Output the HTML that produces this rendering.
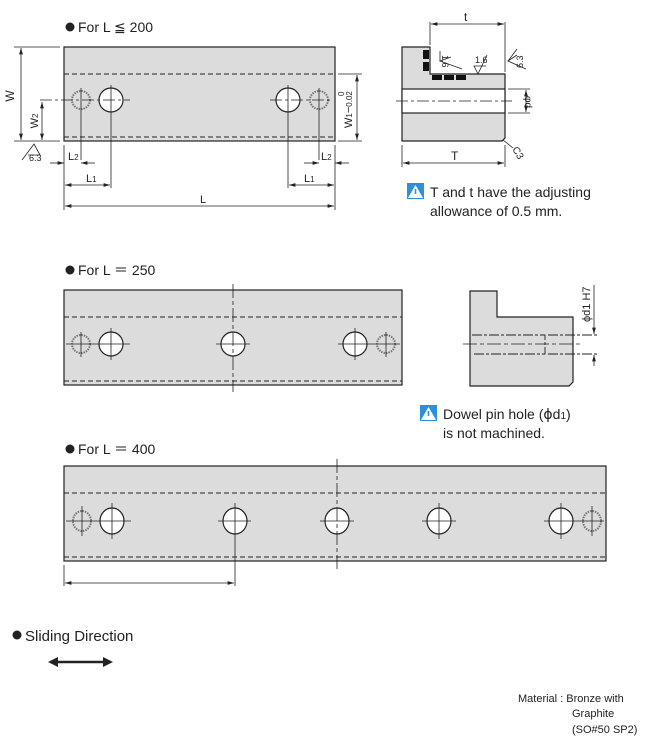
<!DOCTYPE html><html><head><meta charset="utf-8"><style>
body{margin:0;background:#fff}
svg{display:block;font-family:"Liberation Sans",sans-serif}
</style></head><body>
<svg width="648" height="741" viewBox="0 0 648 741" xmlns="http://www.w3.org/2000/svg">
<defs>
<marker id="a" viewBox="0 0 10 6" refX="10" refY="3" markerWidth="8" markerHeight="5" orient="auto-start-reverse"><path d="M0,0L10,3L0,6z" fill="#222"/></marker>
</defs>
<g fill="#222" font-size="14">
<circle cx="70" cy="27" r="4.5"/><text x="78" y="32">For L ≦ 200</text>
<circle cx="70" cy="270" r="4.5"/><text x="78" y="275">For L ＝ 250</text>
<circle cx="70" cy="449" r="4.5"/><text x="78" y="454">For L ＝ 400</text>
<circle cx="17" cy="635" r="4.5"/><text x="25" y="641" font-size="15">Sliding Direction</text>
</g>
<!-- block 1 -->
<g stroke="#222" stroke-width="1.2">
<rect x="64" y="47" width="271" height="94" fill="#dcdcdc"/>
<g stroke-dasharray="5,3" stroke-width="1"><line x1="64" y1="74" x2="335" y2="74"/><line x1="64" y1="137" x2="335" y2="137"/></g>
<g fill="#fff"><ellipse cx="111" cy="100" rx="12" ry="12"/><ellipse cx="288" cy="100" rx="12" ry="12"/></g>
<g fill="none" stroke="#777" stroke-dasharray="1.5,1" stroke-width="2"><circle cx="81" cy="100" r="9"/><circle cx="319" cy="100" r="9"/></g>
<g stroke-width="0.8" fill="none">
<line x1="40" y1="100" x2="130" y2="100" stroke-dasharray="12,3,3,3"/><line x1="270" y1="100" x2="333" y2="100" stroke-dasharray="12,3,3,3"/>
<line x1="81" y1="88" x2="81" y2="160"/><line x1="111" y1="85" x2="111" y2="188"/><line x1="288" y1="85" x2="288" y2="188"/><line x1="319" y1="88" x2="319" y2="160"/>
<line x1="14" y1="47" x2="60" y2="47"/><line x1="14" y1="141" x2="60" y2="141"/>
<line x1="21" y1="48" x2="21" y2="140" marker-start="url(#a)" marker-end="url(#a)"/>
<line x1="42" y1="102" x2="42" y2="140" marker-start="url(#a)" marker-end="url(#a)"/>
<line x1="64" y1="145" x2="64" y2="210"/><line x1="335" y1="145" x2="335" y2="210"/>
<line x1="50" y1="163" x2="64" y2="163" marker-end="url(#a)"/><line x1="95" y1="163" x2="81" y2="163" marker-end="url(#a)"/>
<line x1="304" y1="163" x2="319" y2="163" marker-end="url(#a)"/><line x1="349" y1="163" x2="335" y2="163" marker-end="url(#a)"/>
<line x1="65" y1="185" x2="110" y2="185" marker-start="url(#a)" marker-end="url(#a)"/>
<line x1="289" y1="185" x2="334" y2="185" marker-start="url(#a)" marker-end="url(#a)"/>
<line x1="65" y1="206" x2="334" y2="206" marker-start="url(#a)" marker-end="url(#a)"/>
<line x1="338" y1="74" x2="362" y2="74"/><line x1="338" y1="141" x2="362" y2="141"/>
<line x1="357" y1="75" x2="357" y2="140" marker-start="url(#a)" marker-end="url(#a)"/>
<path d="M22,160 L34,144 L40,155 L28,155"/>
</g></g>
<g font-size="11" fill="#222">
<text x="14" y="96" transform="rotate(-90 14 96)" text-anchor="middle" font-size="12">W</text>
<text x="38" y="121" transform="rotate(-90 38 121)" text-anchor="middle">W<tspan font-size="8">2</tspan></text>
<text x="29" y="161" font-size="9">6.3</text>
<text x="68" y="160">L<tspan font-size="8">2</tspan></text><text x="321" y="160">L<tspan font-size="8">2</tspan></text>
<text x="86" y="182">L<tspan font-size="8">1</tspan></text><text x="304" y="182">L<tspan font-size="8">1</tspan></text>
<text x="200" y="203">L</text>
<text x="352" y="128" transform="rotate(-90 352 128)">W<tspan font-size="8">1</tspan>−<tspan font-size="8">0.02</tspan></text>
<text x="344" y="96" transform="rotate(-90 344 96)" font-size="8">0</text>
</g>
<!-- side view 1 -->
<g stroke="#222" stroke-width="1.2">
<path d="M402,47 H430 V74 H505 V138 L502,141 H402 Z" fill="#dcdcdc"/>
<rect x="402" y="89" width="103" height="24" fill="#fff"/>
<g fill="#111" stroke="none"><rect x="423" y="50" width="6" height="9"/><rect x="423" y="62" width="6" height="9"/><rect x="432" y="75" width="10" height="5"/><rect x="444" y="75" width="10" height="5"/><rect x="456" y="75" width="10" height="5"/></g>
<g stroke-width="0.8" fill="none">
<line x1="396" y1="101" x2="512" y2="101" stroke-dasharray="12,3,3,3"/>
<line x1="430" y1="22" x2="430" y2="45"/><line x1="505" y1="22" x2="505" y2="72"/>
<line x1="431" y1="24" x2="504" y2="24" marker-start="url(#a)" marker-end="url(#a)"/>
<line x1="402" y1="145" x2="402" y2="167"/><line x1="505" y1="145" x2="505" y2="167"/>
<line x1="403" y1="163" x2="504" y2="163" marker-start="url(#a)" marker-end="url(#a)"/>
<line x1="508" y1="89" x2="530" y2="89"/><line x1="508" y1="113" x2="530" y2="113"/>
<line x1="526" y1="90" x2="526" y2="112" marker-start="url(#a)" marker-end="url(#a)"/>
<path d="M451,57 L440,61 L462,69 M440,61 L440,51"/>
<path d="M487,55 L478,74 L474,66 H486"/>
<path d="M517,55 L508,61 L526,69 M508,61 L517,49"/>
<line x1="503" y1="140" x2="513" y2="148"/>
</g></g>
<g font-size="10" fill="#222">
<text x="442" y="55" transform="rotate(90 442 55)" font-size="9">1.6</text>
<text x="475" y="63" font-size="9">1.6</text>
<text x="523" y="68" transform="rotate(-90 523 68)" font-size="9">6.3</text>
<text x="512" y="149" transform="rotate(60 512 149)">C3</text>
<text x="525" y="96" transform="rotate(90 525 96)">φd</text>
<text x="464" y="21" font-size="12">t</text>
<text x="451" y="160" font-size="12">T</text>
</g>
<g font-size="14" fill="#222">
<rect x="407" y="183" width="17" height="16" fill="#2f8fd8"/><path d="M415.5,185 L423,198 H408 Z" fill="#fff"/><rect x="414.7" y="189" width="1.6" height="5" fill="#2f8fd8"/>
<text x="430" y="197">T and t have the adjusting</text>
<text x="430" y="216">allowance of 0.5 mm.</text>
<rect x="420" y="405" width="17" height="16" fill="#2f8fd8"/><path d="M428.5,407 L436,420 H421 Z" fill="#fff"/><rect x="427.7" y="411" width="1.6" height="5" fill="#2f8fd8"/>
<text x="443" y="419">Dowel pin hole (<tspan font-family="DejaVu Sans">ϕ</tspan>d<tspan font-size="10">1</tspan>)</text>
<text x="443" y="438">is not machined.</text>
</g>
<!-- block 2 -->
<g stroke="#222" stroke-width="1.2">
<rect x="64" y="290" width="338" height="95" fill="#dcdcdc"/>
<g stroke-dasharray="5,3" stroke-width="1"><line x1="64" y1="317" x2="402" y2="317"/><line x1="64" y1="381" x2="402" y2="381"/></g>
<g fill="#fff"><circle cx="111" cy="344" r="12"/><circle cx="233" cy="344" r="12"/><circle cx="355" cy="344" r="12"/></g>
<g fill="none" stroke="#777" stroke-dasharray="1.5,1" stroke-width="2"><circle cx="81" cy="344" r="9"/><circle cx="386" cy="344" r="9"/></g>
<g stroke-width="0.8"><line x1="66" y1="344" x2="130" y2="344"/><line x1="216" y1="344" x2="250" y2="344"/><line x1="338" y1="344" x2="400" y2="344"/>
<line x1="81" y1="332" x2="81" y2="357"/><line x1="111" y1="328" x2="111" y2="360"/><line x1="355" y1="328" x2="355" y2="360"/><line x1="386" y1="332" x2="386" y2="357"/>
<line x1="233" y1="284" x2="233" y2="392" stroke-dasharray="14,3,4,3"/></g>
</g>
<!-- side view 2 -->
<g stroke="#222" stroke-width="1.2">
<path d="M470,291 H497 V317 H573 V382 L569,386 H470 Z" fill="#dcdcdc"/>
<g stroke-width="0.9" fill="none" stroke-dasharray="10,2,3,2">
<path d="M472,335 H545 V354 H472"/><line x1="548" y1="335" x2="598" y2="335"/><line x1="548" y1="354" x2="598" y2="354"/></g>
<line x1="463" y1="344" x2="580" y2="344" stroke-width="0.8" stroke-dasharray="14,3,4,3"/>
<line x1="594" y1="285" x2="594" y2="334" stroke-width="0.8" marker-end="url(#a)"/>
<line x1="594" y1="366" x2="594" y2="355" stroke-width="0.8" marker-end="url(#a)"/>
</g>
<text x="590" y="322" transform="rotate(-90 590 322)" font-size="11" fill="#222">ϕd1 H7</text>
<!-- block 3 -->
<g stroke="#222" stroke-width="1.2">
<rect x="64" y="466" width="542" height="95" fill="#dcdcdc"/>
<g stroke-dasharray="5,3" stroke-width="1"><line x1="64" y1="493" x2="606" y2="493"/><line x1="64" y1="557" x2="606" y2="557"/></g>
<g fill="#fff"><ellipse cx="112" cy="521" rx="12" ry="13"/><ellipse cx="235" cy="521" rx="12" ry="13"/><ellipse cx="337" cy="521" rx="12" ry="13"/><ellipse cx="439" cy="521" rx="12" ry="13"/><ellipse cx="561" cy="521" rx="12" ry="13"/></g>
<g fill="none" stroke="#777" stroke-dasharray="1.5,1" stroke-width="2"><ellipse cx="82" cy="521" rx="9" ry="10"/><ellipse cx="592" cy="521" rx="9" ry="10"/></g>
<g stroke-width="0.8"><line x1="66" y1="521" x2="131" y2="521"/><line x1="218" y1="521" x2="251" y2="521"/><line x1="320" y1="521" x2="354" y2="521"/><line x1="422" y1="521" x2="456" y2="521"/><line x1="544" y1="521" x2="604" y2="521"/>
<line x1="82" y1="506" x2="82" y2="536"/><line x1="112" y1="503" x2="112" y2="539"/><line x1="235" y1="503" x2="235" y2="586"/><line x1="439" y1="503" x2="439" y2="539"/><line x1="561" y1="503" x2="561" y2="539"/><line x1="592" y1="506" x2="592" y2="536"/>
<line x1="337" y1="459" x2="337" y2="569" stroke-dasharray="14,3,4,3"/>
<line x1="64" y1="565" x2="64" y2="586"/>
<line x1="65" y1="583" x2="234" y2="583" marker-start="url(#a)" marker-end="url(#a)"/></g>
</g>
<!-- sliding arrow -->
<line x1="52" y1="662" x2="109" y2="662" stroke="#222" stroke-width="2.5"/>
<path d="M48,662 L58,657 L58,667Z M113,662 L103,657 L103,667Z" fill="#222"/>
<g font-size="11" fill="#222"><text x="518" y="702">Material : Bronze with</text><text x="572" y="717">Graphite</text><text x="572" y="733">(SO#50 SP2)</text></g>
</svg>
</body></html>
